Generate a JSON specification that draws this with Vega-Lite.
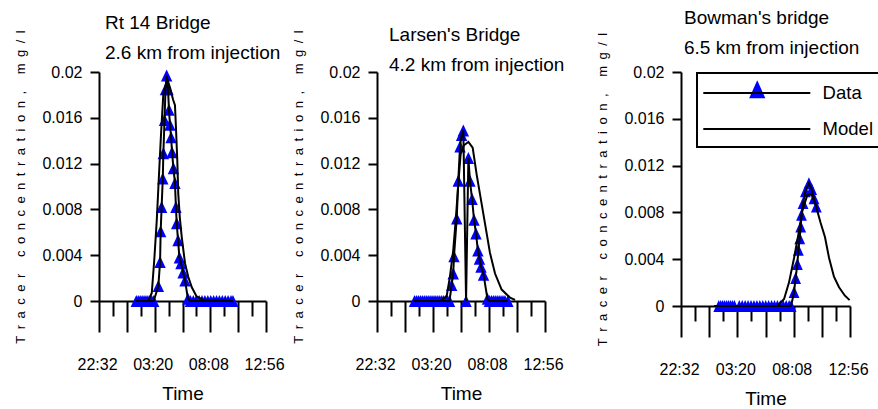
{
  "$schema": "https://vega.github.io/schema/vega-lite/v6.json",
  "padding": {"left": 14, "top": 9, "right": 0, "bottom": 0},
  "background": "white",
  "datasets": {
    "rt14": [
      {"series":"Data","time":"2000-01-02T01:45","conc":0},
      {"series":"Data","time":"2000-01-02T01:55","conc":0},
      {"series":"Data","time":"2000-01-02T02:05","conc":0},
      {"series":"Data","time":"2000-01-02T02:15","conc":0},
      {"series":"Data","time":"2000-01-02T02:25","conc":0},
      {"series":"Data","time":"2000-01-02T02:35","conc":0},
      {"series":"Data","time":"2000-01-02T02:45","conc":0},
      {"series":"Data","time":"2000-01-02T02:55","conc":0},
      {"series":"Data","time":"2000-01-02T03:05","conc":0},
      {"series":"Data","time":"2000-01-02T03:15","conc":0},
      {"series":"Data","time":"2000-01-02T03:39","conc":0.0013},
      {"series":"Data","time":"2000-01-02T03:48","conc":0.0034},
      {"series":"Data","time":"2000-01-02T03:51","conc":0.0061},
      {"series":"Data","time":"2000-01-02T03:56","conc":0.0082},
      {"series":"Data","time":"2000-01-02T04:02","conc":0.0107},
      {"series":"Data","time":"2000-01-02T04:05","conc":0.0129},
      {"series":"Data","time":"2000-01-02T04:11","conc":0.0158},
      {"series":"Data","time":"2000-01-02T04:16","conc":0.0185},
      {"series":"Data","time":"2000-01-02T04:22","conc":0.0197},
      {"series":"Data","time":"2000-01-02T04:29","conc":0.0185},
      {"series":"Data","time":"2000-01-02T04:34","conc":0.0167},
      {"series":"Data","time":"2000-01-02T04:39","conc":0.0154},
      {"series":"Data","time":"2000-01-02T04:45","conc":0.0143},
      {"series":"Data","time":"2000-01-02T04:50","conc":0.013},
      {"series":"Data","time":"2000-01-02T04:57","conc":0.0116},
      {"series":"Data","time":"2000-01-02T05:05","conc":0.0103},
      {"series":"Data","time":"2000-01-02T05:10","conc":0.0082},
      {"series":"Data","time":"2000-01-02T05:14","conc":0.0068},
      {"series":"Data","time":"2000-01-02T05:21","conc":0.0053},
      {"series":"Data","time":"2000-01-02T05:28","conc":0.0038},
      {"series":"Data","time":"2000-01-02T05:36","conc":0.0033},
      {"series":"Data","time":"2000-01-02T05:47","conc":0.0025},
      {"series":"Data","time":"2000-01-02T05:57","conc":0.0018},
      {"series":"Data","time":"2000-01-02T06:12","conc":0.0002},
      {"series":"Data","time":"2000-01-02T06:25","conc":0},
      {"series":"Data","time":"2000-01-02T06:40","conc":0},
      {"series":"Data","time":"2000-01-02T06:55","conc":0},
      {"series":"Data","time":"2000-01-02T07:10","conc":0},
      {"series":"Data","time":"2000-01-02T07:25","conc":0},
      {"series":"Data","time":"2000-01-02T07:40","conc":0},
      {"series":"Data","time":"2000-01-02T07:55","conc":0},
      {"series":"Data","time":"2000-01-02T08:10","conc":0},
      {"series":"Data","time":"2000-01-02T08:25","conc":0},
      {"series":"Data","time":"2000-01-02T08:40","conc":0},
      {"series":"Data","time":"2000-01-02T08:55","conc":0},
      {"series":"Data","time":"2000-01-02T09:10","conc":0},
      {"series":"Data","time":"2000-01-02T09:25","conc":0},
      {"series":"Data","time":"2000-01-02T09:40","conc":0},
      {"series":"Data","time":"2000-01-02T09:55","conc":0},
      {"series":"Data","time":"2000-01-02T10:05","conc":0},
      {"series":"Model","time":"2000-01-02T01:40","conc":0},
      {"series":"Model","time":"2000-01-02T02:47","conc":0},
      {"series":"Model","time":"2000-01-02T03:05","conc":0.0007},
      {"series":"Model","time":"2000-01-02T03:18","conc":0.0036},
      {"series":"Model","time":"2000-01-02T03:31","conc":0.0071},
      {"series":"Model","time":"2000-01-02T03:42","conc":0.0109},
      {"series":"Model","time":"2000-01-02T03:53","conc":0.0146},
      {"series":"Model","time":"2000-01-02T04:05","conc":0.0181},
      {"series":"Model","time":"2000-01-02T04:25","conc":0.0194},
      {"series":"Model","time":"2000-01-02T04:40","conc":0.0186},
      {"series":"Model","time":"2000-01-02T04:55","conc":0.0176},
      {"series":"Model","time":"2000-01-02T05:05","conc":0.0171},
      {"series":"Model","time":"2000-01-02T05:10","conc":0.0152},
      {"series":"Model","time":"2000-01-02T05:17","conc":0.0123},
      {"series":"Model","time":"2000-01-02T05:22","conc":0.0094},
      {"series":"Model","time":"2000-01-02T05:30","conc":0.0073},
      {"series":"Model","time":"2000-01-02T05:40","conc":0.0056},
      {"series":"Model","time":"2000-01-02T05:57","conc":0.0033},
      {"series":"Model","time":"2000-01-02T06:14","conc":0.0021},
      {"series":"Model","time":"2000-01-02T06:32","conc":0.0012},
      {"series":"Model","time":"2000-01-02T06:57","conc":0.0004},
      {"series":"Model","time":"2000-01-02T07:32","conc":0.0001},
      {"series":"Model","time":"2000-01-02T10:05","conc":0}
    ],
    "larsen": [
      {"series":"Data","time":"2000-01-02T01:45","conc":0},
      {"series":"Data","time":"2000-01-02T01:55","conc":0},
      {"series":"Data","time":"2000-01-02T02:05","conc":0},
      {"series":"Data","time":"2000-01-02T02:15","conc":0},
      {"series":"Data","time":"2000-01-02T02:25","conc":0},
      {"series":"Data","time":"2000-01-02T02:35","conc":0},
      {"series":"Data","time":"2000-01-02T02:45","conc":0},
      {"series":"Data","time":"2000-01-02T02:55","conc":0},
      {"series":"Data","time":"2000-01-02T03:05","conc":0},
      {"series":"Data","time":"2000-01-02T03:15","conc":0},
      {"series":"Data","time":"2000-01-02T03:25","conc":0},
      {"series":"Data","time":"2000-01-02T03:35","conc":0},
      {"series":"Data","time":"2000-01-02T03:45","conc":0},
      {"series":"Data","time":"2000-01-02T03:55","conc":0},
      {"series":"Data","time":"2000-01-02T04:05","conc":0},
      {"series":"Data","time":"2000-01-02T04:15","conc":0},
      {"series":"Data","time":"2000-01-02T04:25","conc":0},
      {"series":"Data","time":"2000-01-02T04:35","conc":0},
      {"series":"Data","time":"2000-01-02T04:45","conc":0},
      {"series":"Data","time":"2000-01-02T04:56","conc":0.0014},
      {"series":"Data","time":"2000-01-02T05:04","conc":0.0024},
      {"series":"Data","time":"2000-01-02T05:08","conc":0.0039},
      {"series":"Data","time":"2000-01-02T05:22","conc":0.0072},
      {"series":"Data","time":"2000-01-02T05:30","conc":0.0105},
      {"series":"Data","time":"2000-01-02T05:39","conc":0.0135},
      {"series":"Data","time":"2000-01-02T05:47","conc":0.0145},
      {"series":"Data","time":"2000-01-02T05:56","conc":0.0149},
      {"series":"Data","time":"2000-01-02T06:10","conc":0},
      {"series":"Data","time":"2000-01-02T06:22","conc":0.0125},
      {"series":"Data","time":"2000-01-02T06:30","conc":0.0105},
      {"series":"Data","time":"2000-01-02T06:41","conc":0.0089},
      {"series":"Data","time":"2000-01-02T06:51","conc":0.0071},
      {"series":"Data","time":"2000-01-02T07:01","conc":0.0059},
      {"series":"Data","time":"2000-01-02T07:11","conc":0.0044},
      {"series":"Data","time":"2000-01-02T07:19","conc":0.0037},
      {"series":"Data","time":"2000-01-02T07:27","conc":0.003},
      {"series":"Data","time":"2000-01-02T07:40","conc":0.0023},
      {"series":"Data","time":"2000-01-02T08:00","conc":0.0002},
      {"series":"Data","time":"2000-01-02T08:10","conc":0},
      {"series":"Data","time":"2000-01-02T08:20","conc":0},
      {"series":"Data","time":"2000-01-02T08:30","conc":0},
      {"series":"Data","time":"2000-01-02T08:40","conc":0},
      {"series":"Data","time":"2000-01-02T08:50","conc":0},
      {"series":"Data","time":"2000-01-02T09:00","conc":0},
      {"series":"Data","time":"2000-01-02T09:10","conc":0},
      {"series":"Data","time":"2000-01-02T09:20","conc":0},
      {"series":"Data","time":"2000-01-02T09:30","conc":0},
      {"series":"Data","time":"2000-01-02T09:45","conc":0},
      {"series":"Model","time":"2000-01-02T01:40","conc":0},
      {"series":"Model","time":"2000-01-02T03:56","conc":0},
      {"series":"Model","time":"2000-01-02T04:30","conc":0.0004},
      {"series":"Model","time":"2000-01-02T04:47","conc":0.0021},
      {"series":"Model","time":"2000-01-02T05:04","conc":0.0044},
      {"series":"Model","time":"2000-01-02T05:18","conc":0.0073},
      {"series":"Model","time":"2000-01-02T05:30","conc":0.0102},
      {"series":"Model","time":"2000-01-02T05:42","conc":0.0128},
      {"series":"Model","time":"2000-01-02T05:59","conc":0.0136},
      {"series":"Model","time":"2000-01-02T06:22","conc":0.0139},
      {"series":"Model","time":"2000-01-02T06:44","conc":0.0134},
      {"series":"Model","time":"2000-01-02T07:05","conc":0.011},
      {"series":"Model","time":"2000-01-02T07:30","conc":0.0085},
      {"series":"Model","time":"2000-01-02T07:56","conc":0.0059},
      {"series":"Model","time":"2000-01-02T08:13","conc":0.0042},
      {"series":"Model","time":"2000-01-02T08:39","conc":0.0024},
      {"series":"Model","time":"2000-01-02T09:13","conc":0.001},
      {"series":"Model","time":"2000-01-02T09:56","conc":0.0003},
      {"series":"Model","time":"2000-01-02T10:22","conc":0.0001}
    ],
    "bowman": [
      {"series":"Data","time":"2000-01-02T01:45","conc":0},
      {"series":"Data","time":"2000-01-02T01:55","conc":0},
      {"series":"Data","time":"2000-01-02T02:05","conc":0},
      {"series":"Data","time":"2000-01-02T02:15","conc":0},
      {"series":"Data","time":"2000-01-02T02:25","conc":0},
      {"series":"Data","time":"2000-01-02T02:35","conc":0},
      {"series":"Data","time":"2000-01-02T02:45","conc":0},
      {"series":"Data","time":"2000-01-02T02:55","conc":0},
      {"series":"Data","time":"2000-01-02T03:05","conc":0},
      {"series":"Data","time":"2000-01-02T03:30","conc":0},
      {"series":"Data","time":"2000-01-02T03:45","conc":0},
      {"series":"Data","time":"2000-01-02T04:00","conc":0},
      {"series":"Data","time":"2000-01-02T04:15","conc":0},
      {"series":"Data","time":"2000-01-02T04:30","conc":0},
      {"series":"Data","time":"2000-01-02T04:45","conc":0},
      {"series":"Data","time":"2000-01-02T05:00","conc":0},
      {"series":"Data","time":"2000-01-02T05:15","conc":0},
      {"series":"Data","time":"2000-01-02T05:30","conc":0},
      {"series":"Data","time":"2000-01-02T05:45","conc":0},
      {"series":"Data","time":"2000-01-02T06:00","conc":0},
      {"series":"Data","time":"2000-01-02T06:15","conc":0},
      {"series":"Data","time":"2000-01-02T06:30","conc":0},
      {"series":"Data","time":"2000-01-02T06:45","conc":0},
      {"series":"Data","time":"2000-01-02T07:00","conc":0},
      {"series":"Data","time":"2000-01-02T07:15","conc":0},
      {"series":"Data","time":"2000-01-02T07:30","conc":0},
      {"series":"Data","time":"2000-01-02T07:45","conc":0},
      {"series":"Data","time":"2000-01-02T07:55","conc":0},
      {"series":"Data","time":"2000-01-02T08:10","conc":0.0012},
      {"series":"Data","time":"2000-01-02T08:18","conc":0.0024},
      {"series":"Data","time":"2000-01-02T08:27","conc":0.0036},
      {"series":"Data","time":"2000-01-02T08:32","conc":0.0048},
      {"series":"Data","time":"2000-01-02T08:39","conc":0.0058},
      {"series":"Data","time":"2000-01-02T08:44","conc":0.0068},
      {"series":"Data","time":"2000-01-02T08:48","conc":0.0078},
      {"series":"Data","time":"2000-01-02T08:56","conc":0.0088},
      {"series":"Data","time":"2000-01-02T09:08","conc":0.0098},
      {"series":"Data","time":"2000-01-02T09:26","conc":0.0105},
      {"series":"Data","time":"2000-01-02T09:40","conc":0.01},
      {"series":"Data","time":"2000-01-02T09:52","conc":0.0092},
      {"series":"Data","time":"2000-01-02T10:04","conc":0.0085},
      {"series":"Model","time":"2000-01-02T01:21","conc":0},
      {"series":"Model","time":"2000-01-02T06:44","conc":0},
      {"series":"Model","time":"2000-01-02T07:19","conc":0.0006},
      {"series":"Model","time":"2000-01-02T07:44","conc":0.002},
      {"series":"Model","time":"2000-01-02T08:10","conc":0.0041},
      {"series":"Model","time":"2000-01-02T08:32","conc":0.0061},
      {"series":"Model","time":"2000-01-02T08:52","conc":0.0081},
      {"series":"Model","time":"2000-01-02T09:18","conc":0.0095},
      {"series":"Model","time":"2000-01-02T09:40","conc":0.0095},
      {"series":"Model","time":"2000-01-02T10:01","conc":0.0086},
      {"series":"Model","time":"2000-01-02T10:26","conc":0.0071},
      {"series":"Model","time":"2000-01-02T10:48","conc":0.0059},
      {"series":"Model","time":"2000-01-02T11:09","conc":0.0041},
      {"series":"Model","time":"2000-01-02T11:34","conc":0.0025},
      {"series":"Model","time":"2000-01-02T12:00","conc":0.0016},
      {"series":"Model","time":"2000-01-02T12:29","conc":0.0009},
      {"series":"Model","time":"2000-01-02T12:54","conc":0.0005}
    ]
  },
  "hconcat": [
    {
      "hconcat": [
        {
          "width": 167, "height": 229,
          "data": {"name": "rt14"},
          "title": {"text": ["Rt 14 Bridge", "2.6 km from injection"], "dx": 6, "offset": -32.8},
          "layer": [
            {
              "transform": [{"filter": "datum.series == 'Data'"}],
              "mark": {"type": "point", "shape": "M0,-1L-0.95,1L0.95,1Z", "filled": true, "color": "#0000ff", "opacity": 1, "size": 144},
              "encoding": {
                "x": {"field": "time", "type": "temporal", "scale": {"domain": [{"year":2000,"month":1,"date":1,"hours":22,"minutes":32},{"year":2000,"month":1,"date":2,"hours":12,"minutes":56}], "nice": false}, "axis": null},
                "y": {"field": "conc", "type": "quantitative", "scale": {"domain": [0, 0.02], "nice": false},
                      "axis": {"title": "T\u2002r\u2002a\u2002c\u2002e\u2002r\u2002 \u2002c\u2002o\u2002n\u2002c\u2002e\u2002n\u2002t\u2002r\u2002a\u2002t\u2002i\u2002o\u2002n\u2002,\u2002 \u2002m\u2002g\u2002/\u2002l", "values": [0,0.002,0.004,0.006,0.008,0.01,0.012,0.014,0.016,0.018,0.02], "labelExpr": "indexof([0,4,8,12,16,20], round(datum.value*1000)) >= 0 ? toString(round(datum.value*1000)/1000) : ''"}}
              }
            },
            {
              "transform": [{"filter": "datum.series == 'Data'"}],
              "mark": {"type": "line", "color": "black", "strokeWidth": 2},
              "encoding": {
                "x": {"field": "time", "type": "temporal", "scale": {"domain": [{"year":2000,"month":1,"date":1,"hours":22,"minutes":32},{"year":2000,"month":1,"date":2,"hours":12,"minutes":56}], "nice": false},
                      "axis": {"orient": "bottom", "title": "Time", "format": "%H:%M", "values": [{"year":2000,"month":1,"date":1,"hours":22,"minutes":32},{"year":2000,"month":1,"date":2,"hours":0,"minutes":56},{"year":2000,"month":1,"date":2,"hours":3,"minutes":20},{"year":2000,"month":1,"date":2,"hours":5,"minutes":44},{"year":2000,"month":1,"date":2,"hours":8,"minutes":8},{"year":2000,"month":1,"date":2,"hours":10,"minutes":32},{"year":2000,"month":1,"date":2,"hours":12,"minutes":56}], "labelExpr": "indexof(['22:32','03:20','08:08','12:56'], datum.label) >= 0 ? datum.label : ''", "tickSize": 31}},
                "y": {"field": "conc", "type": "quantitative"}
              }
            },
            {
              "transform": [{"filter": "datum.series == 'Model'"}],
              "mark": {"type": "line", "color": "black", "strokeWidth": 2},
              "encoding": {
                "x": {"field": "time", "type": "temporal", "scale": {"domain": [{"year":2000,"month":1,"date":1,"hours":22,"minutes":32},{"year":2000,"month":1,"date":2,"hours":12,"minutes":56}], "nice": false},
                      "axis": {"orient": "bottom", "title": null, "labels": false, "domain": false, "tickSize": 15, "values": [{"year":2000,"month":1,"date":1,"hours":23,"minutes":44},{"year":2000,"month":1,"date":2,"hours":2,"minutes":8},{"year":2000,"month":1,"date":2,"hours":4,"minutes":32},{"year":2000,"month":1,"date":2,"hours":6,"minutes":56},{"year":2000,"month":1,"date":2,"hours":9,"minutes":20},{"year":2000,"month":1,"date":2,"hours":11,"minutes":44}]}},
                "y": {"field": "conc", "type": "quantitative"}
              }
            }
          ],
          "resolve": {"scale": {"x": "independent"}, "axis": {"x": "independent"}}
        },
        {
          "width": 168, "height": 229,
          "data": {"name": "larsen"},
          "title": {"text": ["Larsen's Bridge", "4.2 km from injection"], "dx": 12, "offset": -45.2},
          "layer": [
            {
              "transform": [{"filter": "datum.series == 'Data'"}],
              "mark": {"type": "point", "shape": "M0,-1L-0.95,1L0.95,1Z", "filled": true, "color": "#0000ff", "opacity": 1, "size": 144},
              "encoding": {
                "x": {"field": "time", "type": "temporal", "scale": {"domain": [{"year":2000,"month":1,"date":1,"hours":22,"minutes":32},{"year":2000,"month":1,"date":2,"hours":12,"minutes":56}], "nice": false}, "axis": null},
                "y": {"field": "conc", "type": "quantitative", "scale": {"domain": [0, 0.02], "nice": false},
                      "axis": {"title": "T\u2002r\u2002a\u2002c\u2002e\u2002r\u2002 \u2002c\u2002o\u2002n\u2002c\u2002e\u2002n\u2002t\u2002r\u2002a\u2002t\u2002i\u2002o\u2002n\u2002,\u2002 \u2002m\u2002g\u2002/\u2002l", "values": [0,0.002,0.004,0.006,0.008,0.01,0.012,0.014,0.016,0.018,0.02], "labelExpr": "indexof([0,4,8,12,16,20], round(datum.value*1000)) >= 0 ? toString(round(datum.value*1000)/1000) : ''"}}
              }
            },
            {
              "transform": [{"filter": "datum.series == 'Data'"}],
              "mark": {"type": "line", "color": "black", "strokeWidth": 2},
              "encoding": {
                "x": {"field": "time", "type": "temporal", "scale": {"domain": [{"year":2000,"month":1,"date":1,"hours":22,"minutes":32},{"year":2000,"month":1,"date":2,"hours":12,"minutes":56}], "nice": false},
                      "axis": {"orient": "bottom", "title": "Time", "format": "%H:%M", "values": [{"year":2000,"month":1,"date":1,"hours":22,"minutes":32},{"year":2000,"month":1,"date":2,"hours":0,"minutes":56},{"year":2000,"month":1,"date":2,"hours":3,"minutes":20},{"year":2000,"month":1,"date":2,"hours":5,"minutes":44},{"year":2000,"month":1,"date":2,"hours":8,"minutes":8},{"year":2000,"month":1,"date":2,"hours":10,"minutes":32},{"year":2000,"month":1,"date":2,"hours":12,"minutes":56}], "labelExpr": "indexof(['22:32','03:20','08:08','12:56'], datum.label) >= 0 ? datum.label : ''", "tickSize": 31}},
                "y": {"field": "conc", "type": "quantitative"}
              }
            },
            {
              "transform": [{"filter": "datum.series == 'Model'"}],
              "mark": {"type": "line", "color": "black", "strokeWidth": 2},
              "encoding": {
                "x": {"field": "time", "type": "temporal", "scale": {"domain": [{"year":2000,"month":1,"date":1,"hours":22,"minutes":32},{"year":2000,"month":1,"date":2,"hours":12,"minutes":56}], "nice": false},
                      "axis": {"orient": "bottom", "title": null, "labels": false, "domain": false, "tickSize": 15, "values": [{"year":2000,"month":1,"date":1,"hours":23,"minutes":44},{"year":2000,"month":1,"date":2,"hours":2,"minutes":8},{"year":2000,"month":1,"date":2,"hours":4,"minutes":32},{"year":2000,"month":1,"date":2,"hours":6,"minutes":56},{"year":2000,"month":1,"date":2,"hours":9,"minutes":20},{"year":2000,"month":1,"date":2,"hours":11,"minutes":44}]}},
                "y": {"field": "conc", "type": "quantitative"}
              }
            }
          ],
          "resolve": {"scale": {"x": "independent"}, "axis": {"x": "independent"}}
        }
      ],
      "spacing": 7
    },
    {
      "width": 169, "height": 234,
      "data": {"name": "bowman"},
      "title": {"text": ["Bowman's bridge", "6.5 km from injection"], "dx": 3, "offset": -26},
      "layer": [
        {
          "transform": [{"filter": "datum.series == 'Data'"}],
          "mark": {"type": "point", "filled": true, "color": "#0000ff", "opacity": 1, "size": 144},
          "encoding": {
            "x": {"field": "time", "type": "temporal", "scale": {"domain": [{"year":2000,"month":1,"date":1,"hours":22,"minutes":32},{"year":2000,"month":1,"date":2,"hours":12,"minutes":56}], "nice": false}, "axis": null},
            "y": {"field": "conc", "type": "quantitative", "scale": {"domain": [0, 0.02], "nice": false},
                  "axis": {"title": "T\u2002r\u2002a\u2002c\u2002e\u2002r\u2002 \u2002c\u2002o\u2002n\u2002c\u2002e\u2002n\u2002t\u2002r\u2002a\u2002t\u2002i\u2002o\u2002n\u2002,\u2002 \u2002m\u2002g\u2002/\u2002l", "values": [0,0.002,0.004,0.006,0.008,0.01,0.012,0.014,0.016,0.018,0.02], "labelExpr": "indexof([0,4,8,12,16,20], round(datum.value*1000)) >= 0 ? toString(round(datum.value*1000)/1000) : ''"}},
            "shape": {"field": "series", "type": "nominal", "scale": {"domain": ["Data"], "range": ["M0,-1L-0.9,1L0.9,1Z"]},
                      "legend": {"orient": "none", "legendX": 649, "legendY": 8, "title": null, "labelExpr": "''", "symbolSize": 324, "symbolFillColor": "#0000ff", "symbolStrokeWidth": 0, "padding": 0}}
          }
        },
        {
          "transform": [{"filter": "datum.series == 'Data'"}],
          "mark": {"type": "line", "strokeWidth": 2},
          "encoding": {
            "x": {"field": "time", "type": "temporal", "scale": {"domain": [{"year":2000,"month":1,"date":1,"hours":22,"minutes":32},{"year":2000,"month":1,"date":2,"hours":12,"minutes":56}], "nice": false},
                  "axis": {"orient": "bottom", "title": "Time", "format": "%H:%M", "values": [{"year":2000,"month":1,"date":1,"hours":22,"minutes":32},{"year":2000,"month":1,"date":2,"hours":0,"minutes":56},{"year":2000,"month":1,"date":2,"hours":3,"minutes":20},{"year":2000,"month":1,"date":2,"hours":5,"minutes":44},{"year":2000,"month":1,"date":2,"hours":8,"minutes":8},{"year":2000,"month":1,"date":2,"hours":10,"minutes":32},{"year":2000,"month":1,"date":2,"hours":12,"minutes":56}], "labelExpr": "indexof(['22:32','03:20','08:08','12:56'], datum.label) >= 0 ? datum.label : ''", "tickSize": 31}},
            "y": {"field": "conc", "type": "quantitative"},
            "stroke": {"field": "series", "type": "nominal", "scale": {"domain": ["Data", "Model"], "range": ["black", "black"]},
                       "legend": {"orient": "none", "legendX": 598, "legendY": 1, "title": null, "symbolType": "M-5,0H5", "symbolSize": 458, "symbolStrokeWidth": 2, "symbolStrokeColor": "black", "symbolFillColor": "transparent", "symbolOffset": 39.8, "labelOffset": 53.8, "padding": 8, "strokeColor": "black", "rowPadding": 14}}
          }
        },
        {
          "transform": [{"filter": "datum.series == 'Model'"}],
          "mark": {"type": "line", "strokeWidth": 2},
          "encoding": {
            "x": {"field": "time", "type": "temporal", "scale": {"domain": [{"year":2000,"month":1,"date":1,"hours":22,"minutes":32},{"year":2000,"month":1,"date":2,"hours":12,"minutes":56}], "nice": false},
                  "axis": {"orient": "bottom", "title": null, "labels": false, "domain": false, "tickSize": 15, "values": [{"year":2000,"month":1,"date":1,"hours":23,"minutes":44},{"year":2000,"month":1,"date":2,"hours":2,"minutes":8},{"year":2000,"month":1,"date":2,"hours":4,"minutes":32},{"year":2000,"month":1,"date":2,"hours":6,"minutes":56},{"year":2000,"month":1,"date":2,"hours":9,"minutes":20},{"year":2000,"month":1,"date":2,"hours":11,"minutes":44}]}},
            "y": {"field": "conc", "type": "quantitative"},
            "stroke": {"field": "series", "type": "nominal"}
          }
        }
      ],
      "resolve": {"scale": {"x": "independent"}, "axis": {"x": "independent"}}
    }
  ],
  "spacing": 31,
  "config": {
    "view": {"stroke": null},
    "font": "Liberation Sans",
    "title": {"font": "Liberation Sans", "fontSize": 19, "fontWeight": "normal", "anchor": "start", "frame": "group", "lineHeight": 30, "color": "black"},
    "axis": {"domainColor": "black", "domainWidth": 2, "tickColor": "black", "tickWidth": 2, "grid": false, "labelFont": "Liberation Sans", "labelFontSize": 16, "labelColor": "black", "labelOverlap": false, "labelFlush": false, "labelBound": false, "titleFontWeight": "normal", "titleColor": "black"},
    "axisX": {"labelPadding": 24, "labelOffset": -2, "titleFont": "Liberation Sans", "titleFontSize": 19, "titlePadding": 12},
    "axisY": {"tickSize": 9, "labelPadding": 8, "titleFont": "Liberation Sans", "titleFontSize": 13, "titlePadding": 14},
    "legend": {"labelFont": "Liberation Sans", "labelFontSize": 18.5, "labelColor": "black", "strokeWidth": 2}
  }
}
